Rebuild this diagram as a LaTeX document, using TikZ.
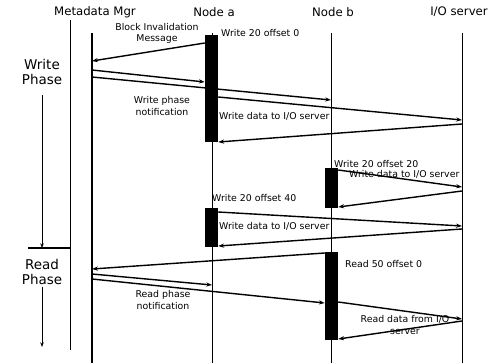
\documentclass[tikz,border=0pt]{standalone}
\usepackage{fontspec}
\setmainfont{DejaVu Sans}
\usetikzlibrary{arrows.meta}

\begin{document}
\begin{tikzpicture}[x=0.03cm, y=-0.03cm,
  head/.style={font=\fontsize{10}{12}\selectfont, inner sep=0},
  phase/.style={font=\fontsize{11.5}{13.5}\selectfont, align=center, inner sep=0},
  lbl/.style={font=\fontsize{8}{9.5}\selectfont, align=center, inner sep=0},
  life/.style={line width=0.7pt},
  bar/.style={rectangle, fill=black, inner sep=0, minimum width=0.39cm},
  msg/.style={line width=1.2pt, -{Stealth[length=5pt, width=3.5pt]}},
]
\useasboundingbox (0,0) rectangle (488,363);

% lifelines
\node[head] (h mgr) at (95,12) {Metadata Mgr};
\node[head] (h a) at (214,12) {Node a};
\node[head] (h b) at (333,12) {Node b};
\node[head] (h io) at (459,12) {I/O server};
\coordinate (mgr) at (92,33);  \coordinate (mgr end) at (92,363);
\coordinate (na) at (212,33);  \coordinate (na end) at (212,363);
\coordinate (nb) at (331,33);  \coordinate (nb end) at (331,363);
\coordinate (io) at (462,33);  \coordinate (io end) at (462,363);
\draw[life, line width=1pt] (mgr) -- (mgr end);
\draw[life] (na) -- (na end);
\draw[life] (nb) -- (nb end);
\draw[life] (io) -- (io end);

% phases
\coordinate (time) at (70,20); \coordinate (time end) at (70,350);
\draw[life] (time) -- (time end);
\node[phase] (wphase) at (42,72) {Write\\Phase};
\node[phase] (rphase) at (42,272) {Read\\Phase};
\coordinate (sep) at (28,248); \coordinate (sep end) at (70,248);
\draw[life, line width=1pt] (sep) -- (sep end);
\draw[life, -{Stealth[length=4pt, width=3pt]}] (wphase.south |- 0,95) -- (wphase.south |- sep);
\draw[life, -{Stealth[length=4pt, width=3pt]}] (rphase.south |- 0,287) -- (rphase.south |- 0,347);

% activations
\node[bar, minimum height=3.21cm] (a1) at (211.5,88.5) {};
\node[bar, minimum height=1.17cm] (a2) at (211.5,227.5) {};
\node[bar, minimum height=1.2cm] (b1) at (331.5,188) {};
\node[bar, minimum height=2.64cm] (b2) at (331.5,296) {};

% write phase
\draw[msg] (a1.west |- 0,43) -- (mgr |- 0,61);
\node[lbl] at (157,33) {Block Invalidation\\Message};
\node[lbl, anchor=west] at (221,33) {Write 20 offset 0};
\draw[msg] (mgr |- 0,70) -- (a1.west |- 0,82);
\draw[msg] (mgr |- 0,77) -- (nb |- 0,100);
\node[lbl] at (162,106) {Write phase\\notification};
\draw[msg] (a1.east |- 0,97) -- (io |- 0,120);
\node[lbl, anchor=west] at (219,116) {Write data to I/O server};
\draw[msg] (io |- 0,124) -- (a1.east |- 0,142);

\node[lbl, anchor=west] at (334,164) {Write 20 offset 20};
\draw[msg] (b1.east |- 0,170) -- (io |- 0,187);
\node[lbl, anchor=west] at (349,174) {Write data to I/O server};
\draw[msg] (io |- 0,191) -- (b1.east |- 0,207);

\node[lbl, anchor=west] at (212,198) {Write 20 offset 40};
\draw[msg] (a2.east |- 0,212) -- (io |- 0,226);
\node[lbl, anchor=west] at (219,226) {Write data to I/O server};
\draw[msg] (io |- 0,229) -- (a2.east |- 0,246);

% read phase
\draw[msg] (b2.west |- 0,253) -- (mgr |- 0,269);
\draw[msg] (mgr |- 0,274) -- (na |- 0,285);
\draw[msg] (mgr |- 0,279) -- (b2.west |- 0,303);
\node[lbl] at (163,300) {Read phase\\notification};
\node[lbl, anchor=west] at (345,264) {Read 50 offset 0};
\draw[msg] (b2.east |- 0,302) -- (io |- 0,319);
\node[lbl] at (405,325) {Read data from I/O\\server};
\draw[msg] (io |- 0,321) -- (b2.east |- 0,339);
\end{tikzpicture}
\end{document}
